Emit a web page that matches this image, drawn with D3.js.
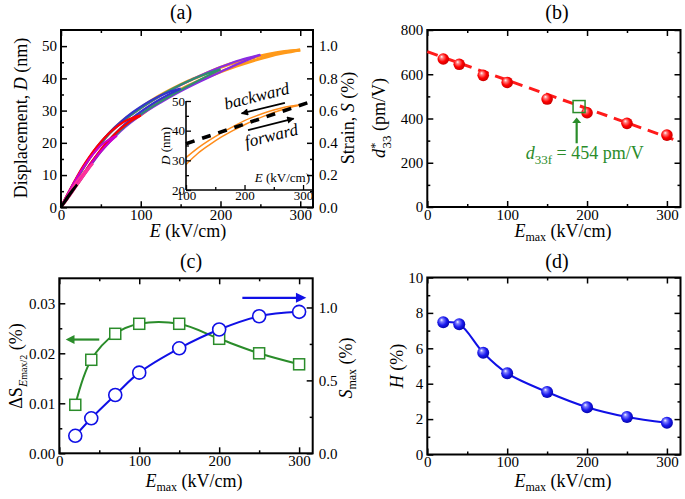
<!DOCTYPE html>
<html><head><meta charset="utf-8">
<script src="https://cdn.jsdelivr.net/npm/d3@7"></script>
<style>body{margin:0;background:#fff}</style>
</head><body>
<svg id="c" width="685" height="499"></svg>
<script>
// ---------- DATA ----------
const Emax = [20, 40, 70, 100, 150, 200, 250, 300];
const d33 = [669, 645, 595, 563, 488, 426, 378, 325];
const d33FitE = [0, 308];
const d33FitV = [702, 306];
const d33fE = 190, d33fV = 454;
const dS = [0.0097, 0.0187, 0.0239, 0.0259, 0.0259, 0.0229, 0.0200, 0.0178];
const Smax = [0.12, 0.24, 0.40, 0.553, 0.72, 0.849, 0.94, 0.97];
const Hys = [7.47, 7.36, 5.75, 4.59, 3.53, 2.67, 2.12, 1.80];

// panel (a) loops: field E (kV/cm), displacement D (nm), forward & backward branches
const loop20E = [0, 5, 10, 15, 20];
const loop20F = [0, 1.6, 3.4, 5.2, 7.0];
const loop20B = [0, 2.2, 4.0, 5.6, 7.0];
const loop40E = [0, 10, 20, 30, 40];
const loop40F = [0, 3.2, 6.8, 10.3, 13.6];
const loop40B = [0, 4.3, 8.2, 11.2, 13.6];
const loop70E = [0, 10, 20, 30, 40, 50, 60, 70];
const loop70F = [0, 3.5, 7.2, 10.9, 14.3, 17.4, 20.0, 22.2];
const loop70B = [0, 4.8, 9.2, 13.1, 16.4, 19.2, 21.0, 22.2];
const loop100E = [0, 10, 20, 30, 40, 50, 60, 70, 80, 90, 100];
const loop100F = [0, 3.6, 7.4, 11.1, 14.6, 17.9, 20.8, 23.3, 25.4, 27.1, 28.5];
const loop100B = [0, 4.9, 9.5, 13.6, 17.2, 20.3, 22.9, 25.0, 26.7, 27.8, 28.5];
const loop150E = [0, 15, 30, 45, 60, 75, 90, 105, 120, 135, 150];
const loop150F = [0, 5.4, 11.0, 16.2, 20.8, 24.6, 27.8, 30.5, 32.9, 35.0, 36.8];
const loop150B = [0, 7.0, 13.3, 18.7, 23.0, 26.5, 29.5, 32.0, 34.1, 35.7, 36.8];
const loop200E = [0, 20, 40, 60, 80, 100, 120, 140, 160, 180, 200];
const loop200F = [0, 7.0, 14.2, 20.4, 25.2, 28.9, 32.1, 35.0, 37.7, 40.3, 42.8];
const loop200B = [0, 8.9, 16.7, 22.7, 27.2, 30.8, 34.0, 36.8, 39.2, 41.2, 42.8];
const loop250E = [0, 25, 50, 75, 100, 125, 150, 175, 200, 225, 250];
const loop250F = [0, 8.6, 17.2, 23.7, 28.6, 32.5, 36.0, 39.1, 42.0, 44.8, 47.3];
const loop250B = [0, 10.9, 20.0, 26.1, 30.8, 34.6, 37.9, 40.9, 43.5, 45.7, 47.3];
const loop300E = [0, 20, 40, 60, 80, 100, 120, 140, 160, 180, 200, 220, 240, 260, 280, 300];
const loop300F = [0, 7.0, 14.3, 20.6, 25.5, 28.6, 32.3, 35.2, 37.8, 40.0, 42.0, 43.8, 45.4, 46.8, 47.9, 48.8];
const loop300B = [0, 9.0, 16.8, 22.8, 27.4, 30.9, 34.1, 36.8, 39.2, 41.3, 43.4, 45.0, 46.4, 47.5, 48.3, 48.8];
// inset: tangent line
const tangentE = [100, 314];
const tangentD = [35.6, 49.8];

// ---------- STYLE ----------
const loopColors = {20:"#000000",40:"#ff3399",70:"#cc00cc",100:"#ff0000",150:"#3333cc",200:"#2f8f6f",250:"#8a2be2",300:"#ff9a1a"};
const SERIF = "Liberation Serif";
const RED = "#ff1a1a", BLUE = "#1010e6", GREEN = "#2a8c2a";

const svg = d3.select("#c");
svg.append("rect").attr("width",685).attr("height",499).attr("fill","#fff");
const defs = svg.append("defs");
function sphereGrad(id, hi, mid, dark){
  const g = defs.append("radialGradient").attr("id",id).attr("cx","0.45").attr("cy","0.45").attr("r","0.6").attr("fx","0.35").attr("fy","0.3");
  g.append("stop").attr("offset","0").attr("stop-color","#ffffff");
  g.append("stop").attr("offset","0.22").attr("stop-color",hi);
  g.append("stop").attr("offset","0.6").attr("stop-color",mid);
  g.append("stop").attr("offset","1").attr("stop-color",dark);
}
sphereGrad("gRed","#ff8080","#ff0000","#c00000");
sphereGrad("gBlue","#8080ff","#1a1aee","#0000a0");

function frame(g, x, y, o){
  const x0=x.range()[0], x1=x.range()[1], y0=y.range()[0], y1=y.range()[1];
  const style = s => {
    s.attr("font-family",null);
    s.select(".domain").remove();
    s.selectAll("line").attr("stroke","#000").attr("stroke-width",1.5);
    s.selectAll("text").style("font-family",SERIF).attr("font-size",15).attr("fill","#000");
  };
  g.append("g").attr("transform",`translate(0,${y0})`).call(d3.axisBottom(x).tickValues(o.xMajor).tickSize(-6).tickPadding(2).tickFormat(d3.format("d"))).call(style);
  g.append("g").attr("transform",`translate(0,${y0})`).call(d3.axisBottom(x).tickValues(o.xMinor).tickSize(-3).tickFormat("")).call(style);
  g.append("g").attr("transform",`translate(0,${y1})`).call(d3.axisTop(x).tickValues(o.xMajor).tickSize(-6).tickFormat("")).call(style);
  g.append("g").attr("transform",`translate(0,${y1})`).call(d3.axisTop(x).tickValues(o.xMinor).tickSize(-3).tickFormat("")).call(style);
  g.append("g").attr("transform",`translate(${x0},0)`).call(d3.axisLeft(y).tickValues(o.yMajor).tickSize(-6).tickPadding(4).tickFormat(o.yFmt)).call(style);
  g.append("g").attr("transform",`translate(${x0},0)`).call(d3.axisLeft(y).tickValues(o.yMinor).tickSize(-3).tickFormat("")).call(style);
  const yr = o.y2 || y;
  g.append("g").attr("transform",`translate(${x1},0)`).call(d3.axisRight(yr).tickValues(o.y2 ? o.y2Major : o.yMajor).tickSize(-6).tickPadding(6).tickFormat(o.y2 ? o.y2Fmt : "")).call(style);
  g.append("g").attr("transform",`translate(${x1},0)`).call(d3.axisRight(yr).tickValues(o.y2 ? o.y2Minor : o.yMinor).tickSize(-3).tickFormat("")).call(style);
  g.append("rect").attr("x",x0).attr("y",y1).attr("width",x1-x0).attr("height",y0-y1).attr("fill","none").attr("stroke","#000").attr("stroke-width",2);
}
function txt(g, x, y, size, rot){
  const t = g.append("text").style("font-family",SERIF).attr("font-size",size).attr("fill","#000")
    .attr("text-anchor","middle");
  if(rot) t.attr("transform",`translate(${x},${y}) rotate(${rot})`); else t.attr("x",x).attr("y",y);
  return t;
}
function emaxTitle(g, x, y){
  const t = txt(g, x, y, 18);
  t.append("tspan").attr("font-style","italic").text("E");
  t.append("tspan").attr("font-size",12).attr("dy",4).text("max");
  t.append("tspan").attr("dy",-4).text(" (kV/cm)");
}
const xMaj = [0,100,200,300], xMin = [50,150,250];

// ---------- PANEL (a) ----------
{
  const g = svg.append("g");
  const x = d3.scaleLinear([0,316],[61,313]);
  const y = d3.scaleLinear([0,55],[207.3,30]);
  const y2 = d3.scaleLinear([0,1.1],[207.3,30]);
  const loops = [
    [300,loop300E,loop300F,loop300B],[250,loop250E,loop250F,loop250B],[200,loop200E,loop200F,loop200B],
    [150,loop150E,loop150F,loop150B],[100,loop100E,loop100F,loop100B],[70,loop70E,loop70F,loop70B],
    [40,loop40E,loop40F,loop40B],[20,loop20E,loop20F,loop20B]];
  const line = d3.line().x(d=>x(d[0])).y(d=>y(d[1])).curve(d3.curveMonotoneX);
  loops.forEach(([em,E,F,B])=>{
    [F,B].forEach(D=>{
      g.append("path").attr("d",line(E.map((e,i)=>[e,D[i]]))).attr("fill","none")
        .attr("stroke",loopColors[em]).attr("stroke-width",em===300?3:2.2);
    });
  });
  frame(g, x, y, {xMajor:xMaj, xMinor:xMin, yMajor:[0,10,20,30,40,50], yMinor:[5,15,25,35,45], yFmt:d3.format("d"),
    y2:y2, y2Major:[0,0.2,0.4,0.6,0.8,1.0], y2Minor:[0.1,0.3,0.5,0.7,0.9], y2Fmt:d3.format(".1f")});
  txt(g,181,19,20).text("(a)");
  const xt = txt(g,188,237,18); xt.append("tspan").attr("font-style","italic").text("E"); xt.append("tspan").text(" (kV/cm)");
  const yt = txt(g,27,118,18,-90); yt.append("tspan").text("Displacement, "); yt.append("tspan").attr("font-style","italic").text("D"); yt.append("tspan").text(" (nm)");
  const y2t = txt(g,354,118,18,-90); y2t.append("tspan").text("Strain, "); y2t.append("tspan").attr("font-style","italic").text("S"); y2t.append("tspan").text(" (%)");

  // inset
  const xi = d3.scaleLinear([100,317],[186,313]);
  const yi = d3.scaleLinear([20,50],[190,101]);
  const ia = g.append("g");
  const lineI = d3.line().x(d=>xi(d[0])).y(d=>yi(d[1])).curve(d3.curveMonotoneX);
  [loop300F, loop300B].forEach(D=>{
    const pts = loop300E.map((e,i)=>[e,D[i]]).filter(p=>p[0]>=100);
    ia.append("path").attr("d",lineI(pts)).attr("fill","none").attr("stroke","#ff8c1a").attr("stroke-width",1.5);
  });
  ia.append("path").attr("d",d3.line().x(d=>xi(d[0])).y(d=>yi(d[1]))(tangentE.map((e,i)=>[e,tangentD[i]])))
    .attr("fill","none").attr("stroke","#000").attr("stroke-width",3.6).attr("stroke-dasharray","9,8");
  const sI = s => { s.attr("font-family",null); s.select(".domain").remove(); s.selectAll("line").attr("stroke","#000").attr("stroke-width",1.3);
    s.selectAll("text").style("font-family",SERIF).attr("font-size",13).attr("fill","#000"); };
  ia.append("g").attr("transform",`translate(0,${yi(20)})`).call(d3.axisBottom(xi).tickValues([100,200,300]).tickSize(-5).tickPadding(1).tickFormat(d3.format("d"))).call(sI);
  ia.append("g").attr("transform",`translate(0,${yi(20)})`).call(d3.axisBottom(xi).tickValues([150,250]).tickSize(-3).tickFormat("")).call(sI);
  ia.append("g").attr("transform",`translate(${xi(100)},0)`).call(d3.axisLeft(yi).tickValues([20,30,40,50]).tickSize(-5).tickPadding(1).tickFormat(d3.format("d"))).call(sI);
  ia.append("g").attr("transform",`translate(${xi(100)},0)`).call(d3.axisLeft(yi).tickValues([25,35,45]).tickSize(-3).tickFormat("")).call(sI);
  ia.append("line").attr("x1",xi(100)).attr("x2",313).attr("y1",yi(20)).attr("y2",yi(20)).attr("stroke","#000").attr("stroke-width",1.6);
  ia.append("line").attr("x1",xi(100)).attr("x2",xi(100)).attr("y1",yi(20)).attr("y2",yi(50)).attr("stroke","#000").attr("stroke-width",1.6);
  const it = ia.append("text").style("font-family",SERIF).attr("font-size",13).attr("text-anchor","end").attr("x",310).attr("y",yi(22.6));
  it.append("tspan").attr("font-style","italic").text("E"); it.append("tspan").text(" (kV/cm)");
  const iy = txt(ia,170,146,13,-90); iy.append("tspan").attr("font-style","italic").text("D"); iy.append("tspan").text(" (nm)");
  defs.append("marker").attr("id","ahBlack").attr("viewBox","0 0 10 10").attr("refX",9).attr("refY",5)
    .attr("markerWidth",5).attr("markerHeight",4).attr("orient","auto").attr("markerUnits","strokeWidth")
    .append("path").attr("d","M0,0 L10,5 L0,10 Z").attr("fill","#000");
  ia.append("line").attr("x1",xi(269)).attr("y1",yi(49.4)).attr("x2",xi(195)).attr("y2",yi(45.8))
    .attr("stroke","#000").attr("stroke-width",1.8).attr("marker-end","url(#ahBlack)");
  ia.append("line").attr("x1",xi(206)).attr("y1",yi(40.2)).attr("x2",xi(284)).attr("y2",yi(44.1))
    .attr("stroke","#000").attr("stroke-width",1.8).attr("marker-end","url(#ahBlack)");
  txt(ia, xi(223), yi(49.8), 17, -14).attr("font-style","italic").text("backward");
  txt(ia, xi(248), yi(36.5), 17, -14).attr("font-style","italic").text("forward");
}

// ---------- PANEL (b) ----------
{
  const g = svg.append("g");
  const x = d3.scaleLinear([0,317],[427.3,680.5]);
  const y = d3.scaleLinear([0,800],[207,30]);
  frame(g, x, y, {xMajor:xMaj, xMinor:xMin, yMajor:[0,200,400,600,800], yMinor:[100,300,500,700], yFmt:d3.format("d")});
  g.append("path").attr("d",d3.line().x(d=>x(d[0])).y(d=>y(d[1]))(d33FitE.map((e,i)=>[e,d33FitV[i]])))
    .attr("stroke",RED).attr("stroke-width",3).attr("stroke-dasharray","11,7").attr("fill","none");
  g.selectAll("circle.s").data(Emax).join("circle").attr("cx",d=>x(d)).attr("cy",(d,i)=>y(d33[i]))
    .attr("r",5.8).attr("fill","url(#gRed)");
  g.append("rect").attr("x",x(d33fE)-6).attr("y",y(d33fV)-6).attr("width",12).attr("height",12)
    .attr("fill","none").attr("stroke",GREEN).attr("stroke-width",1.5);
  g.append("line").attr("x1",x(187)).attr("x2",x(187)).attr("y1",y(288)).attr("y2",y(380)).attr("stroke",GREEN).attr("stroke-width",2.2);
  g.append("path").attr("d",`M${x(187)-4.5},${y(380)} L${x(187)+4.5},${y(380)} L${x(187)},${y(405)} Z`).attr("fill",GREEN);
  const lt = g.append("text").style("font-family",SERIF).attr("font-size",18).attr("fill",GREEN).attr("text-anchor","middle")
    .attr("x",x(197)).attr("y",y(215));
  lt.append("tspan").attr("font-style","italic").text("d");
  lt.append("tspan").attr("font-size",13).attr("dy",5).text("33f");
  lt.append("tspan").attr("dy",-5).text(" = 454 pm/V");
  txt(g,557,19,20).text("(b)");
  emaxTitle(g,563,237);
  const yt = txt(g,385,118,18,-90);
  yt.append("tspan").attr("font-style","italic").text("d");
  yt.append("tspan").attr("font-size",13).attr("dy",-6).text("*");
  yt.append("tspan").attr("font-size",13).attr("dx",-6).attr("dy",12).text("33");
  yt.append("tspan").attr("dy",-6).text(" (pm/V)");
}

// ---------- PANEL (c) ----------
{
  const g = svg.append("g");
  const x = d3.scaleLinear([0,317],[59.3,312.7]);
  const y = d3.scaleLinear([0,0.035],[453.3,278.3]);
  const y2 = d3.scaleLinear([0,1.2],[453.3,278.3]);
  frame(g, x, y, {xMajor:xMaj, xMinor:xMin, yMajor:[0,0.01,0.02,0.03], yMinor:[0.005,0.015,0.025], yFmt:d3.format(".2f"),
    y2:y2, y2Major:[0,0.5,1.0], y2Minor:[0.25,0.75], y2Fmt:d3.format(".1f")});
  const lg = d3.line().x((d,i)=>x(Emax[i])).y(d=>y(d)).curve(d3.curveCatmullRom.alpha(0.5));
  g.append("path").attr("d",lg(dS)).attr("fill","none").attr("stroke",GREEN).attr("stroke-width",2);
  const lb = d3.line().x((d,i)=>x(Emax[i])).y(d=>y2(d)).curve(d3.curveCatmullRom.alpha(0.5));
  g.append("path").attr("d",lb(Smax)).attr("fill","none").attr("stroke",BLUE).attr("stroke-width",2);
  g.selectAll("rect.sq").data(dS).join("rect").attr("x",(d,i)=>x(Emax[i])-5.5).attr("y",d=>y(d)-5.5)
    .attr("width",11).attr("height",11).attr("fill","#fff").attr("stroke",GREEN).attr("stroke-width",1.5);
  g.selectAll("circle.c").data(Smax).join("circle").attr("cx",(d,i)=>x(Emax[i])).attr("cy",d=>y2(d))
    .attr("r",6.5).attr("fill","#fff").attr("stroke",BLUE).attr("stroke-width",1.6);
  g.append("line").attr("x1",x(50)).attr("x2",x(17)).attr("y1",y(0.02275)).attr("y2",y(0.02275)).attr("stroke",GREEN).attr("stroke-width",2.2);
  g.append("path").attr("d",`M${x(8)},${y(0.02275)} L${x(19)},${y(0.02275)-4.5} L${x(19)},${y(0.02275)+4.5} Z`).attr("fill",GREEN);
  g.append("line").attr("x1",x(229)).attr("x2",x(298)).attr("y1",y2(1.066)).attr("y2",y2(1.066)).attr("stroke",BLUE).attr("stroke-width",2.2);
  g.append("path").attr("d",`M${x(309)},${y2(1.066)} L${x(296)},${y2(1.066)-5} L${x(296)},${y2(1.066)+5} Z`).attr("fill",BLUE);
  txt(g,191,268,20).text("(c)");
  emaxTitle(g,194,487);
  const yt = txt(g,22,366,18,-90);
  yt.append("tspan").text("Δ"); yt.append("tspan").text("S");
  yt.append("tspan").attr("font-size",12).attr("font-style","italic").attr("dy",5).text("E");
  yt.append("tspan").attr("font-size",10).text("max/2");
  yt.append("tspan").attr("dy",-5).text(" (%)");
  const y2t = txt(g,352,368,18,-90);
  y2t.append("tspan").attr("font-style","italic").text("S");
  y2t.append("tspan").attr("font-size",12).attr("dy",4).text("max");
  y2t.append("tspan").attr("dy",-4).text(" (%)");
}

// ---------- PANEL (d) ----------
{
  const g = svg.append("g");
  const x = d3.scaleLinear([0,317],[427.3,680.5]);
  const y = d3.scaleLinear([0,10],[454.5,277.5]);
  frame(g, x, y, {xMajor:xMaj, xMinor:xMin, yMajor:[0,2,4,6,8,10], yMinor:[1,3,5,7,9], yFmt:d3.format("d")});
  const l = d3.line().x((d,i)=>x(Emax[i])).y(d=>y(d)).curve(d3.curveCatmullRom.alpha(0.5));
  g.append("path").attr("d",l(Hys)).attr("fill","none").attr("stroke",BLUE).attr("stroke-width",2);
  g.selectAll("circle.s").data(Hys).join("circle").attr("cx",(d,i)=>x(Emax[i])).attr("cy",d=>y(d))
    .attr("r",6).attr("fill","url(#gBlue)");
  txt(g,557,268,20).text("(d)");
  emaxTitle(g,563,487);
  const yt = txt(g,403,366,18,-90);
  yt.append("tspan").attr("font-style","italic").text("H"); yt.append("tspan").text(" (%)");
}
</script>
</body></html>
